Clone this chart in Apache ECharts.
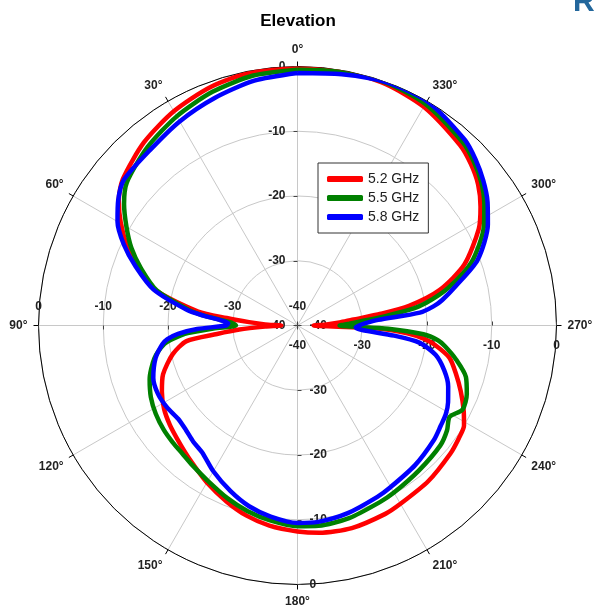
<!DOCTYPE html>
<html>
<head>
<meta charset="utf-8">
<script src="https://cdn.jsdelivr.net/npm/echarts@6/dist/echarts.min.js"></script>
<style>
  html, body { margin: 0; padding: 0; background: #fff; }
  #main { width: 596px; height: 609px; }
</style>
</head>
<body>
<div id="main"></div>
<script>
// angles in degrees, counter-clockwise from top
var angles = [0, 10, 20, 30, 40, 50, 55, 60, 65, 70, 76, 82, 84, 86, 88, 90, 92, 94, 96, 98,
  103, 110, 116, 122, 128, 133, 138, 143, 150, 158, 165, 172, 180, 186, 195, 205, 210, 220,
  230, 235, 239, 243, 248, 253, 258, 262, 264, 266, 268, 270, 272, 274, 276, 278, 280, 284,
  290, 298, 303, 308, 313, 318, 330, 340, 350, 360];

// gain in dB
var gain52 = [0, -0.2, -0.8, -1.8, -3.1, -4.8, -6.3, -8.5, -11.0, -13.9, -17.4, -24.5, -29, -32.5, -35, -37.5, -35, -31, -27.5, -22.7,
  -20.2, -17.9, -16.7, -15.7, -15.0, -14.5, -13.9, -13.2, -12.0, -10.7, -9.6, -8.8, -8.2, -7.8, -7.6, -7.9, -8.2, -8.6,
  -9.2, -9.6, -10.0, -11.2, -12.8, -14.4, -16.0, -18.6, -20.3, -23.0, -28.0, -37.5, -35.5, -33.5, -31.5, -27.0, -22.5, -17.4,
  -12.6, -8.3, -6.3, -4.6, -3.4, -2.5, -1.0, -0.3, 0, 0];

var gain55 = [-0.5, -0.8, -1.6, -2.7, -4.0, -5.6, -7.3, -9.5, -11.7, -14.3, -17.6, -23.2, -25.5, -28.3, -30, -30.5, -27, -23, -20.8, -19.2,
  -17.3, -15.7, -14.8, -14.2, -13.8, -13.6, -13.4, -13.0, -12.3, -11.2, -10.3, -9.6, -9.0, -8.9, -9.2, -9.9, -10.2, -10.8,
  -11.2, -11.8, -12.6, -11.4, -11.8, -12.8, -15.0, -17.0, -18.2, -20.5, -26.0, -33.5, -32.0, -30.0, -26.5, -22.5, -19.8, -16.0,
  -11.4, -7.4, -5.6, -4.0, -2.8, -1.9, -0.5, -0.1, -0.2, -0.5];

var gain58 = [-1.0, -1.6, -2.6, -3.6, -4.6, -5.0, -6.2, -7.9, -10.4, -13.4, -17.1, -22.8, -25.4, -28, -29.3, -29, -24.5, -21.5, -19.8, -18.9,
  -17.5, -16.3, -16.0, -16.2, -16.6, -16.4, -15.9, -15.5, -14.0, -12.4, -11.1, -10.2, -9.5, -9.5, -10.0, -10.8, -11.2, -11.8,
  -12.5, -13.0, -13.3, -13.9, -14.9, -16.3, -18.2, -21.0, -25.0, -30.0, -31.0, -30.5, -29.5, -27.5, -21.0, -18.8, -17.3, -14.8,
  -10.4, -6.7, -5.0, -3.6, -2.4, -1.4, 0, 0, -0.6, -1.0];

var seriesNames = ['5.2 GHz', '5.5 GHz', '5.8 GHz'];
var seriesColors = ['#ff0000', '#008000', '#0000ff'];
var radiusTicks = [-40, -30, -20, -10, 0];

function pairs(vals) {
  var out = [];
  for (var i = 0; i < angles.length; i++) {
    out.push([vals[i], angles[i]]);
  }
  return out;
}

var chart = echarts.init(document.getElementById('main'));
var font = 'Liberation Sans, Arial, sans-serif';
var center = [297.5, 325.5];
var radius = 259;

// four polar systems share one centre: one holds the data, the others only carry radial labels
var startAngles = [90, 180, 270, 0];
var labelMargins = [12, -25, 12, -26];

var polars = [], angleAxes = [], radiusAxes = [];
for (var p = 0; p < 4; p++) {
  polars.push({ center: center, radius: radius });
  angleAxes.push({
    polarIndex: p,
    type: 'value',
    min: 0,
    max: 360,
    interval: 30,
    startAngle: startAngles[p],
    clockwise: false,
    show: p === 0,
    axisLine: { lineStyle: { color: '#000', width: 1 } },
    axisTick: { show: true, length: 5, lineStyle: { color: '#000' } },
    axisLabel: {
      formatter: '{value}°',
      fontFamily: font,
      fontWeight: 'bold',
      fontSize: 12,
      color: '#222',
      margin: 11
    },
    splitLine: { show: p === 0, lineStyle: { color: '#c8c8c8', width: 1 } }
  });
  radiusAxes.push({
    polarIndex: p,
    type: 'value',
    min: radiusTicks[0],
    max: radiusTicks[radiusTicks.length - 1],
    interval: 10,
    axisLine: { show: false },
    axisTick: { show: true, length: 4, lineStyle: { color: '#444' } },
    axisLabel: {
      fontFamily: font,
      fontWeight: 'bold',
      fontSize: 12,
      color: '#222',
      margin: labelMargins[p]
    },
    splitLine: { show: p === 0, lineStyle: { color: '#c8c8c8', width: 1 } }
  });
}

var series = [];
var gains = [gain52, gain55, gain58];
for (var s = 0; s < 3; s++) {
  series.push({
    name: seriesNames[s],
    type: 'line',
    coordinateSystem: 'polar',
    polarIndex: 0,
    showSymbol: false,
    smooth: 0.25,
    clip: false,
    animation: false,
    lineStyle: { color: seriesColors[s], width: 4.5 },
    itemStyle: { color: seriesColors[s] },
    data: pairs(gains[s])
  });
}

var option = {
  backgroundColor: '#fff',
  animation: false,
  title: {
    text: 'Elevation',
    left: 'center',
    top: 8,
    textStyle: { fontFamily: font, fontWeight: 'bold', fontSize: 17, color: '#000' }
  },
  legend: {
    data: seriesNames,
    orient: 'vertical',
    left: 318,
    top: 163,
    padding: [9, 9, 9, 9],
    itemGap: 5,
    itemWidth: 36,
    itemHeight: 6,
    icon: 'roundRect',
    borderColor: '#333',
    borderWidth: 1,
    borderRadius: 0,
    backgroundColor: '#fff',
    textStyle: { fontFamily: font, fontSize: 14, color: '#222' }
  },
  graphic: [{
    type: 'text',
    style: { x: 573, y: -12, text: 'R', font: 'bold 30px ' + font, fill: '#23679c' }
  }],
  polar: polars,
  angleAxis: angleAxes,
  radiusAxis: radiusAxes,
  series: series
};

chart.setOption(option);
</script>
</body>
</html>
